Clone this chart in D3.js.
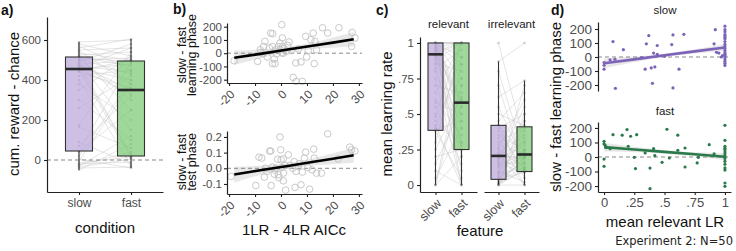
<!DOCTYPE html>
<html>
<head>
<meta charset="utf-8">
<script src="https://cdn.jsdelivr.net/npm/d3@7"></script>
<style>
  body { margin: 0; background: #fff; }
  svg { display: block; font-family: "Liberation Sans", Arial, sans-serif; }
</style>
</head>
<body>
<div id="chart"></div>
<script>
/* Experiment 2 summary figure: four panels a) - d) */

// ---- a) cumulative reward per condition (one pair per participant)
const condLabels = ['slow', 'fast'];
const rewardSlow = [590, 580, 570, 560, 550, 545, 535, 525, 520, 515, 512, 510, 505, 500, 495, 490, 485, 480, 475, 470,
  465, 460, 458, 455, 455, 450, 445, 440, 420, 400, 380, 350, 300, 260, 175, 165, 90, 70, 45, 40,
  20, 5, -5, -15, -20, -25, -30, -35, -40, -50];
const rewardFast = [600, 520, 450, 605, 560, 380, 500, 540, 250, 470, 490, 300, 430, 510, 150, 580, 20, 495, 350, 440,
  560, 30, 400, 480, 330, 10, 500, 360, 450, -30, 200, 520, 100, 420, 540, 60, -20, 320, 490, 250,
  400, -40, 380, 15, -10, 40, 120, 5, -35, 80];
// min, q1, median, q3, max
const rewardBoxSlow = [-50, 45, 455, 515, 590];
const rewardBoxFast = [-40, 20, 350, 495, 605];
const rewardTicks = [0, 200, 400, 600];

// ---- b) slow - fast difference vs model comparison
const learnAicc = [-18.1, -9, -8, -7, -6.2, -6.7, -5.3, -4, -3.2, -3.3, -2.6, -3.3, -2.3, -2, -0.4, 0.3, 0.5, 0.6, 0.3, 2.2,
  3.1, 4.7, 5.8, 5.7, 7.7, 8.2, 6.7, 9.5, 9.9, 11.5, 12.4, 12.8, 13.1, 13.7, 16, 18, 22.3, 27.4, 27.2, 28.5,
  -0.4, 0.9, -1, 1.2, -1.7, 4, -7.8, -4.5, 2.5, 10.5];
const learnDiff = [-57, -62, 26, -4, 89, 51, -29, 152, 147, 51, -44, -79, -79, 26, 77, 215, 115, 51, 2, 14,
  85, -183, -213, -74, -66, -213, 32, 127, -29, 102, 152, -79, 89, 26, 192, 152, 192, 157, 51, 115,
  26, 0, 50, 35, -5, 20, 6, 40, 60, 20];
const testAicc = [-19.2, -9.7, -8.5, -7.4, -6.4, -5.5, -4.4, -3.9, -3.8, -3.3, -2.6, -1.3, -1, -0.4, -0.1, 0, 0.3, 0.9, 0.9, 1.8,
  1.5, 2.8, 5.1, 5.4, 5.8, 6.7, 7.7, 8.2, 9, 9.5, 10.3, 11, 12.6, 12.8, 12, 13.7, 15.6, 18, 26.5, 27.2,
  28.5, -2, 1, 3.5, -0.8, 4.5, -6, -2.3, 7, 22];
const testDiff = [-0.052, -0.11, 0.071, 0.065, -0.056, -0.02, 0.11, 0.11, -0.11, 0.008, -0.037, 0.058, -0.041, 0.2, 0.118, 0.054, 0.005, 0.06, -0.08, -0.139,
  0.018, 0.086, 0.043, -0.122, -0.02, 0.011, -0.105, -0.024, 0.065, 0.103, 0.005, -0.133, 0.122, 0.065, -0.01, -0.031, -0.031, 0.22, 0.135, 0.118,
  0.111, 0.0, -0.03, 0.02, -0.06, 0.0, 0.0, -0.012, 0.03, 0.06];
const fitXb = [-18, -8, 2, 12, 20, 28];
const learnFit = [-35, -5, 26, 56, 80, 105];
const learnSe = [55, 33, 20, 24, 38, 55];
const testFit = [-0.04, -0.013, 0.013, 0.04, 0.061, 0.083];
const testSe = [0.05, 0.03, 0.018, 0.022, 0.035, 0.048];
const aiccTicks = [-20, -10, 0, 10, 20, 30];
const learnTicks = [-200, -100, 0, 100, 200];
const testTicks = [-0.1, 0, 0.1, 0.2];

// ---- c) mean learning rate per feature
const featureLabels = ['relevant', 'irrelevant'];
const relSlow = [1, 1, 1, 1, 1, 1, 1, 1, 1, 1, 1, 1, 1, .98, .97, .96, .95, .94, .93, .92,
  .92, .91, .9, .88, .86, .85, .82, .8, .75, .7, .65, .6, .58, .55, .5, .48, .45, .42, .4, .39,
  .38, .3, .25, .2, .15, .1, .05, 0, 0, 0];
const relFast = [1, .6, .9, 1, .45, 1, .3, .75, 1, .55, 0, 1, .85, .5, 1, .25, .7, 1, .6, .2,
  1, .58, .4, 1, .8, .1, .95, .3, 0, .65, 1, .35, .5, .15, 1, .75, .28, 0, .9, .45,
  .05, 1, .62, .25, .55, 0, .4, .7, .2, .85];
const irrSlow = [1, .87, .8, .7, .62, .55, .5, .45, .42, .42, .4, .38, .35, .33, .3, .28, .26, .25, .23, .22,
  .21, .21, .2, .2, .19, .18, .17, .16, .15, .14, .13, .12, .1, .09, .08, .07, .06, .05, .04, .04,
  .03, .02, .02, .01, .01, 0, 0, 0, 0, 0];
const irrFast = [.3, 1, .2, .1, .735, .15, .42, .65, .21, .05, .5, .1, .25, 0, .41, .22, .6, .12, .35, 0,
  .18, .3, .2, .45, .1, .28, .55, .15, .09, .22, .4, .2, .02, .33, .12, .25, .7, .16, .09, .23,
  .38, .13, .5, .19, .1, 0, .24, .45, .2, .11];
const relBoxSlow = [0, .385, .92, 1, 1];
const relBoxFast = [0, .25, .58, 1, 1];
const irrBoxSlow = [0, .04, .205, .42, .87];
const irrBoxFast = [0, .095, .215, .41, .735];
const lrTicks = [0, .25, .5, .75, 1];
const lrTickLabels = ['0', '.25', '.5', '.75', '1'];

// ---- d) learning phase difference vs mean relevant LR
const dSlowX = [0, 0, 0, .074, .094, .05, .16, .31, .35, .37, .34, .39, .40, .42, .41, .44, .44, .5, .56, .57,
  .57, .62, .66, .92, .91, .93, .95, .97, .98, .09,
  1, 1, 1, 1, 1, 1, 1, 1, 1, 1, 1, 1, 1, 1, 1, 1, 1, 1, 1, 1];
const dSlowY = [-59, -87, -40, 110, -224, -20, 52, -5, 94, 153, -87, -78, -188, -71, 28, 82, 19, 5, 89, 158,
  -221, -87, 162, 195, 94, 33, 28, 0, 10, -16,
  220, 195, 180, 160, 150, 140, 130, 110, 90, 75, 60, 45, 30, 20, 10, 0, -15, -30, -45, -60];
const dFastX = [0, 0, .01, .05, 0, 0, .074, .15, .19, .22, .27, .2, .25, .26, .34, .38, .38, .41, .42, .48,
  .52, .54, .61, .61, .67, .67, .77, .78, .87, .91, .02,
  1, 1, 1, 1, 1, 1, 1, 1, 1, 1, 1, 1, 1, 1, 1];
const dFastY = [108, 90, 80, 57, -14, -64, 154, 150, 189, 143, 154, 74, -2, -80, 28, -76, -218, 57, 9, -37,
  191, -7, 150, 46, -69, 62, -41, -2, 85, 21, 65,
  218, 115, 74, 60, 50, 35, 20, 5, -10, -30, -50, -75, -90, -179, -202];
const fitXd = [0, .25, .5, .75, 1];
const dSlowFit = [-45, -17, 12, 40, 68];
const dSlowSe = [35, 20, 12, 15, 25];
const dFastFit = [68, 52, 35, 19, 2];
const dFastSe = [30, 18, 12, 14, 25];
const dxTicks = [0, .25, .5, .75, 1];
const dxTickLabels = ['0', '.25', '.5', '.75', '1'];
const dyTicks = [-200, -100, 0, 100, 200];

// ---- colours
const purpleFill = '#b8a5d8';
const greenFill = '#77c670';
const purpleDot = '#7c63b8';
const greenDot = '#2b7a4b';
const ink = '#222';
const tickGrey = '#4d4d4d';

const width = 736, height = 251;
const svg = d3.select('#chart').append('svg')
  .attr('width', width)
  .attr('height', height);

function styleAxis(g, size) {
  g.attr('font-family', '"Liberation Sans", Arial, sans-serif').attr('font-size', size || 11);
  g.select('.domain').attr('stroke', ink).attr('stroke-width', 1.2);
  g.selectAll('.tick line').attr('stroke', ink).attr('stroke-width', 1.1);
  g.selectAll('.tick text').attr('fill', tickGrey);
  return g;
}

function yAxisAt(x, scale, ticks, fmt, size, pad) {
  const g = svg.append('g')
    .attr('transform', `translate(${x},0)`)
    .call(d3.axisLeft(scale).tickValues(ticks).tickSize(3).tickPadding(pad == null ? 3 : pad)
      .tickSizeOuter(0).tickFormat(fmt));
  return styleAxis(g, size);
}

function xAxisAt(y, scale, ticks, fmt, rotated, size) {
  const g = svg.append('g')
    .attr('transform', `translate(0,${y})`)
    .call(d3.axisBottom(scale).tickValues(ticks).tickSize(3).tickPadding(3).tickSizeOuter(0).tickFormat(fmt));
  styleAxis(g, size);
  if (rotated) {
    g.selectAll('.tick text')
      .attr('x', 0).attr('y', 0).attr('dy', '0.35em')
      .attr('text-anchor', 'end')
      .attr('transform', 'translate(3,9) rotate(-45)');
  }
  return g;
}

function hLine(x1, x2, y, dashed) {
  svg.append('line')
    .attr('x1', x1).attr('x2', x2).attr('y1', y).attr('y2', y)
    .attr('stroke', '#888').attr('stroke-width', 1)
    .attr('stroke-dasharray', dashed ? '4,3' : null);
}

function drawBox(cx, w, stats, y, fill) {
  const [mn, q1, md, q3, mx] = stats;
  svg.append('line').attr('x1', cx).attr('x2', cx).attr('y1', y(mx)).attr('y2', y(q3))
    .attr('stroke', '#333').attr('stroke-width', 1.1);
  svg.append('line').attr('x1', cx).attr('x2', cx).attr('y1', y(q1)).attr('y2', y(mn))
    .attr('stroke', '#333').attr('stroke-width', 1.1);
  svg.append('rect')
    .attr('x', cx - w / 2).attr('y', y(q3))
    .attr('width', w).attr('height', y(q1) - y(q3))
    .attr('fill', fill).attr('fill-opacity', 0.7)
    .attr('stroke', '#333').attr('stroke-width', 1.1);
  svg.append('line').attr('x1', cx - w / 2).attr('x2', cx + w / 2).attr('y1', y(md)).attr('y2', y(md))
    .attr('stroke', '#2a2a2a').attr('stroke-width', 2.6);
}

function pairedLines(x, y, a, b) {
  svg.append('g').selectAll('line')
    .data(d3.range(a.length))
    .enter().append('line')
    .attr('x1', x('slow')).attr('x2', x('fast'))
    .attr('y1', i => y(a[i])).attr('y2', i => y(b[i]))
    .attr('stroke', '#c4c4c4').attr('stroke-opacity', 0.75).attr('stroke-width', 0.6);
  [['slow', a], ['fast', b]].forEach(([k, vals]) => {
    svg.append('g').selectAll('circle')
      .data(vals)
      .enter().append('circle')
      .attr('cx', x(k)).attr('cy', d => y(d)).attr('r', 1.3)
      .attr('fill', '#9a9a9a').attr('fill-opacity', 0.45);
  });
}

function text(x, y, str, opts = {}) {
  const t = svg.append('text')
    .attr('x', x).attr('y', y)
    .attr('font-size', opts.size || 15)
    .attr('fill', opts.fill || '#111')
    .attr('text-anchor', opts.anchor || 'middle')
    .text(str);
  if (opts.bold) t.attr('font-weight', 'bold');
  if (opts.family) t.attr('font-family', opts.family);
  return t;
}

function yTitle(cx, cy, str, size) {
  svg.append('text')
    .attr('transform', `translate(${cx},${cy}) rotate(-90)`)
    .attr('dy', '0.35em')
    .attr('text-anchor', 'middle')
    .attr('font-size', size || 15)
    .attr('fill', '#111')
    .text(str);
}

// ================= a) =================
const xA = d3.scalePoint().domain(condLabels).range([47, 163]).padding(0.615);
const yA = d3.scaleLinear().domain([-160, 715]).range([192, 17]);

pairedLines(xA, yA, rewardSlow, rewardFast);
drawBox(xA('slow'), 27, rewardBoxSlow, yA, purpleFill);
drawBox(xA('fast'), 27, rewardBoxFast, yA, greenFill);
hLine(47, 163, yA(0), true);
yAxisAt(47, yA, rewardTicks, d => d, 11.5);
xAxisAt(192, xA, condLabels, d => d, false, 12);

text(1, 15, 'a)', { anchor: 'start', size: 14, bold: true });
yTitle(14, 104, 'cum. reward - chance');
text(105, 233, 'condition');

// ================= b) =================
const xB = d3.scaleLinear().domain([-20.8, 31.2]).range([227, 362]);
const yBtop = d3.scaleLinear().domain([-225, 228]).range([83, 23]);
const yBbot = d3.scaleLinear().domain([-0.164, 0.238]).range([194, 131]);

function scatterPanel(xs, ys, y, fitY, fitSe) {
  const area = d3.area()
    .x((d, i) => xB(fitXb[i]))
    .y0((d, i) => y(fitY[i] - fitSe[i]))
    .y1((d, i) => y(fitY[i] + fitSe[i]))
    .curve(d3.curveMonotoneX);
  svg.append('path').datum(fitXb).attr('d', area)
    .attr('fill', '#d9d9d9').attr('fill-opacity', 0.6);
  hLine(xB.range()[0], xB.range()[1], y(0), true);
  svg.append('g').selectAll('circle')
    .data(xs.map((v, i) => [v, ys[i]]))
    .enter().append('circle')
    .attr('cx', d => xB(d[0])).attr('cy', d => y(d[1])).attr('r', 3.3)
    .attr('fill', 'none').attr('stroke', '#c2c2c2').attr('stroke-width', 0.9);
  const line = d3.line().x((d, i) => xB(fitXb[i])).y((d, i) => y(fitY[i]));
  svg.append('path').datum(fitXb).attr('d', line)
    .attr('fill', 'none').attr('stroke', '#000').attr('stroke-width', 2.6);
}

scatterPanel(learnAicc, learnDiff, yBtop, learnFit, learnSe);
scatterPanel(testAicc, testDiff, yBbot, testFit, testSe);

yAxisAt(227, yBtop, learnTicks, d => d, 11.5, 2);
yAxisAt(227, yBbot, testTicks, d => d.toFixed(1), 11.5, 2);
xAxisAt(83, xB, aiccTicks, d => d, true, 12);
xAxisAt(194, xB, aiccTicks, d => d, true, 12);

text(173, 14, 'b)', { anchor: 'start', size: 14, bold: true });
yTitle(182, 55, 'slow - fast', 12.5);
yTitle(192, 55, 'learning phase', 12.5);
yTitle(182, 162, 'slow - fast', 12.5);
yTitle(192, 162, 'test phase', 12.5);
text(294, 235, '1LR - 4LR AICc');

// ================= c) =================
const yC = d3.scaleLinear().domain([-0.049, 1.042]).range([192, 37]);
const xC1 = d3.scalePoint().domain(condLabels).range([420, 477]).padding(0.596);
const xC2 = d3.scalePoint().domain(condLabels).range([484, 539]).padding(0.558);

pairedLines(xC1, yC, relSlow, relFast);
pairedLines(xC2, yC, irrSlow, irrFast);
drawBox(xC1('slow'), 15, relBoxSlow, yC, purpleFill);
drawBox(xC1('fast'), 15, relBoxFast, yC, greenFill);
drawBox(xC2('slow'), 15, irrBoxSlow, yC, purpleFill);
drawBox(xC2('fast'), 15, irrBoxFast, yC, greenFill);

yAxisAt(420, yC, lrTicks, (d, i) => lrTickLabels[i], 11.5);
xAxisAt(192, xC1, condLabels, d => d, true, 12.5);
xAxisAt(192, xC2, condLabels, d => d, true, 12.5);

text(448.5, 28, featureLabels[0], { size: 11.5, fill: '#1a1a1a' });
text(511.5, 28, featureLabels[1], { size: 11.5, fill: '#1a1a1a' });
text(376, 15, 'c)', { anchor: 'start', size: 14, bold: true });
yTitle(387, 114, 'mean learning rate');
text(480, 236, 'feature');

// ================= d) =================
const xD = d3.scaleLinear().domain([-0.05, 1.05]).range([598, 731]);
const yDtop = d3.scaleLinear().domain([-243, 250]).range([91, 22]);
const yDbot = d3.scaleLinear().domain([-241, 241]).range([192, 122]);

function lrPanel(xs, ys, y, fitY, fitSe, color) {
  const area = d3.area()
    .x((d, i) => xD(fitXd[i]))
    .y0((d, i) => y(fitY[i] - fitSe[i]))
    .y1((d, i) => y(fitY[i] + fitSe[i]))
    .curve(d3.curveMonotoneX);
  svg.append('path').datum(fitXd).attr('d', area)
    .attr('fill', '#d9d9d9').attr('fill-opacity', 0.6);
  hLine(598, 731, y(0), true);
  svg.append('g').selectAll('circle')
    .data(xs.map((v, i) => [v, ys[i]]))
    .enter().append('circle')
    .attr('cx', d => xD(d[0])).attr('cy', d => y(d[1])).attr('r', 1.6)
    .attr('fill', color);
  const line = d3.line().x((d, i) => xD(fitXd[i])).y((d, i) => y(fitY[i]));
  svg.append('path').datum(fitXd).attr('d', line)
    .attr('fill', 'none').attr('stroke', color).attr('stroke-width', 2.6);
}

lrPanel(dSlowX, dSlowY, yDtop, dSlowFit, dSlowSe, purpleDot);
lrPanel(dFastX, dFastY, yDbot, dFastFit, dFastSe, greenDot);

yAxisAt(598, yDtop, dyTicks, d => d, 13.5);
yAxisAt(598, yDbot, dyTicks, d => d, 13.5);
xAxisAt(192, xD, dxTicks, (d, i) => dxTickLabels[i], false, 13);

text(665, 14, condLabels[0], { size: 11.5, fill: '#1a1a1a' });
text(665, 115, condLabels[1], { size: 11.5, fill: '#1a1a1a' });
text(551, 15, 'd)', { anchor: 'start', size: 14, bold: true });
yTitle(556, 107, 'slow - fast learning phase');
text(665, 227, 'mean relevant LR');
text(733, 245, 'Experiment 2: N=50', { anchor: 'end', size: 11.5, fill: '#222', family: '"DejaVu Sans", sans-serif' });
</script>
</body>
</html>
